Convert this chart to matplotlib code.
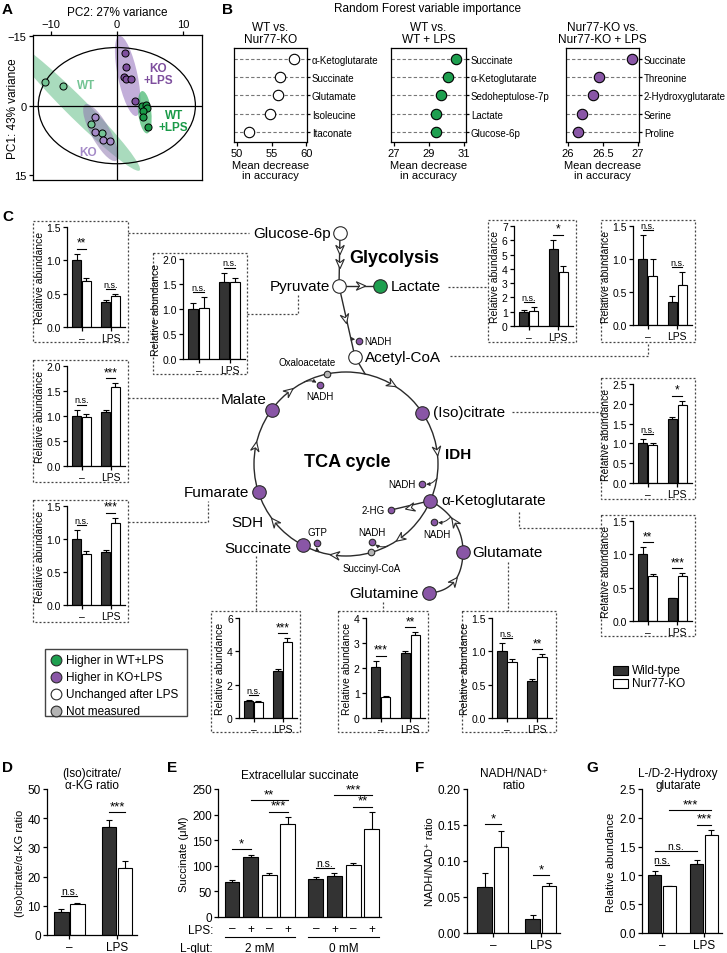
import numpy as np
import matplotlib.pyplot as plt
from matplotlib.patches import Ellipse, Rectangle, Circle, Polygon
from matplotlib.ticker import FormatStrFormatter

plt.rcParams['font.family'] = ['Liberation Sans', 'DejaVu Sans']
plt.rcParams['axes.linewidth'] = 0.9
plt.rcParams['xtick.major.width'] = 0.9
plt.rcParams['ytick.major.width'] = 0.9
plt.rcParams['xtick.major.size'] = 3
plt.rcParams['ytick.major.size'] = 3
plt.rcParams['xtick.major.pad'] = 1.5
plt.rcParams['ytick.major.pad'] = 1.5

W, H = 727, 954
DARK = '#333333'
LINE = '#2a2a2a'
GREEN = '#1e9f4f'
PURPLE = '#8956a6'
GREY = '#b4b4b4'

# ---------------- data ----------------
# A: PCA scores (PC2 on x, PC1 on y)
wt_pc2 = [-10.9, -8.2, -3.9, -2.3]
wt_pc1 = [-5.1, -4.3, 3.9, 5.8]
ko_pc2 = [-3.3, -3.3, -2.1, -1.1]
ko_pc1 = [2.4, 5.6, 7.5, 7.7]
kolps_pc2 = [1.2, 1.4, 1.1, 1.4, 2.1, 2.7]
kolps_pc1 = [-11.4, -8.3, -6.2, -5.8, -5.8, -0.9]
wtlps_pc2 = [3.8, 4.4, 4.6, 3.9, 3.9, 4.7]
wtlps_pc1 = [0.0, -0.2, 0.5, 1.2, 2.4, 4.6]

# B: random forest importance
rf1_names = ['α-Ketoglutarate', 'Succinate', 'Glutamate', 'Isoleucine', 'Itaconate']
rf1_vals = [58.2, 56.2, 56.0, 54.8, 51.8]
rf2_names = ['Succinate', 'α-Ketoglutarate', 'Sedoheptulose-7p', 'Lactate', 'Glucose-6p']
rf2_vals = [30.55, 30.05, 29.7, 29.42, 29.38]
rf3_names = ['Succinate', 'Threonine', '2-Hydroxyglutarate', 'Serine', 'Proline']
rf3_vals = [26.92, 26.45, 26.36, 26.2, 26.14]

# C: relative abundance, order WT-, KO-, WT+LPS, KO+LPS
glc6p_mean = [1.00, 0.69, 0.38, 0.46]
glc6p_sem = [0.10, 0.05, 0.02, 0.03]
glc6p_sig = ['**', 'n.s.']
pyr_mean = [1.00, 1.02, 1.55, 1.54]
pyr_sem = [0.13, 0.22, 0.18, 0.08]
pyr_sig = ['n.s.', 'n.s.']
lac_mean = [1.00, 1.05, 5.40, 3.80]
lac_sem = [0.12, 0.30, 0.65, 0.40]
lac_sig = ['n.s.', '*']
accoa_mean = [1.00, 0.75, 0.35, 0.60]
accoa_sem = [0.37, 0.25, 0.09, 0.20]
accoa_sig = ['n.s.', 'n.s.']
mal_mean = [1.00, 0.99, 1.09, 1.58]
mal_sem = [0.13, 0.05, 0.04, 0.08]
mal_sig = ['n.s.', '***']
cit_mean = [1.00, 0.95, 1.62, 1.98]
cit_sem = [0.12, 0.07, 0.05, 0.10]
cit_sig = ['n.s.', '*']
fum_mean = [1.00, 0.77, 0.81, 1.25]
fum_sem = [0.14, 0.05, 0.02, 0.07]
fum_sig = ['n.s.', '***']
akg_mean = [1.00, 0.68, 0.34, 0.68]
akg_sem = [0.11, 0.03, 0.01, 0.04]
akg_sig = ['**', '***']
suc_mean = [1.00, 0.98, 2.82, 4.55]
suc_sem = [0.08, 0.06, 0.10, 0.25]
suc_sig = ['n.s.', '***']
gln_mean = [2.05, 0.85, 2.62, 3.32]
gln_sem = [0.25, 0.04, 0.07, 0.12]
gln_sig = ['***', '**']
glu_mean = [1.00, 0.84, 0.56, 0.91]
glu_sem = [0.13, 0.05, 0.02, 0.05]
glu_sig = ['n.s.', '**']

# node status: wt = higher in WT+LPS, ko = higher in KO+LPS, same, na
node_status = {
    'Glucose-6p': 'same', 'Pyruvate': 'same', 'Lactate': 'wt', 'Acetyl-CoA': 'same',
    'Oxaloacetate': 'na', '(Iso)citrate': 'ko', 'α-Ketoglutarate': 'ko',
    'Succinyl-CoA': 'na', 'Succinate': 'ko', 'Fumarate': 'ko', 'Malate': 'ko',
    'Glutamate': 'ko', 'Glutamine': 'ko',
}
status_color = {'wt': GREEN, 'ko': PURPLE, 'same': 'white', 'na': GREY}
legend_status = ['wt', 'ko', 'same', 'na']
legend_text = ['Higher in WT+LPS', 'Higher in KO+LPS', 'Unchanged after LPS', 'Not measured']

# D
ratio_mean = [7.8, 10.7, 37.0, 23.0]
ratio_sem = [1.2, 0.3, 2.5, 2.3]
ratio_sig = [(0, 1, 'n.s.'), (2, 3, '***')]
# E
e_mean = [69, 117, 83, 181, 75, 80, 102, 172]
e_sem = [3, 5, 2, 15, 3, 5, 4, 33]
e_geno = ['wt', 'wt', 'ko', 'ko', 'wt', 'wt', 'ko', 'ko']
e_lps = ['–', '+', '–', '+', '–', '+', '–', '+']
e_glut = ['2 mM', '0 mM']
e_sig = [(0, 1, '*'), (2, 3, '***'), (1, 3, '**'), (4, 5, 'n.s.'), (6, 7, '**'), (5, 7, '***')]
# F
nadh_mean = [0.064, 0.119, 0.020, 0.065]
nadh_sem = [0.020, 0.022, 0.005, 0.005]
nadh_sig = [(0, 1, '*'), (2, 3, '*')]
# G
hg_mean = [1.00, 0.81, 1.20, 1.71]
hg_sem = [0.08, 0.01, 0.06, 0.07]
hg_sig = [(0, 1, 'n.s.'), (2, 3, '***'), (0, 2, 'n.s.'), (1, 3, '***')]

# ---------------- figure ----------------
fig = plt.figure(figsize=(W / 100, H / 100), dpi=100)


def px_axes(x0, y0, x1, y1):
    return fig.add_axes([x0 / W, 1 - y1 / H, (x1 - x0) / W, (y1 - y0) / H])


dg = fig.add_axes([0, 0, 1, 1])
dg.set_xlim(0, W)
dg.set_ylim(H, 0)
dg.axis('off')

for lab, x, y in [('A', 2, 10), ('B', 222, 10), ('C', 2, 217), ('D', 2, 768),
                  ('E', 167, 768), ('F', 415, 768), ('G', 586, 768)]:
    dg.text(x, y, lab, fontsize=11, fontweight='bold', va='center', ha='left')


def sig_lines(ax, xs, mean, sem, sig, ymax, fs=7, pad=0.05, step=0.1):
    placed = []
    tops = np.array(mean) + np.array(sem)
    for i, j, s in sig:
        h = tops[i:j + 1].max() + pad * ymax
        for a, b, hp in placed:
            if i <= a and b <= j:
                h = max(h, hp + step * ymax)
        placed.append((i, j, h))
        ax.plot([xs[i], xs[j]], [h, h], color='black', lw=0.8, clip_on=False)
        star = '*' in s
        ax.text((xs[i] + xs[j]) / 2, h, s, ha='center', va='bottom',
                fontsize=fs + 2 if star else fs, clip_on=False)


def pair_bars(ax, mean, sem, sig, ymax, yticks, fmt, fs=7.5, xlim=(-0.5, 1.5), ylabel='Relative abundance'):
    xs = np.array([-0.17, 0.17, 0.83, 1.17])
    ax.bar(xs, mean, 0.31, color=[DARK, 'white'] * 2, edgecolor='black', linewidth=0.8, zorder=2)
    ax.errorbar(xs, mean, yerr=[np.zeros(4), sem], fmt='none', ecolor='black',
                elinewidth=0.8, capsize=2, capthick=0.8, zorder=1)
    sig_lines(ax, xs, mean, sem, sig, ymax, fs=fs - 1)
    ax.set_xlim(*xlim)
    ax.set_ylim(0, ymax)
    ax.set_yticks(yticks)
    ax.yaxis.set_major_formatter(FormatStrFormatter(fmt))
    ax.set_xticks([0, 1], ['–', 'LPS'])
    ax.tick_params(labelsize=fs)
    ax.set_ylabel(ylabel, fontsize=fs, labelpad=1)
    ax.spines[['top', 'right']].set_visible(False)
    ax.set_facecolor('none')


# ---------------- A ----------------
axA = px_axes(33, 36, 202, 181)


def conf_ellipse(ax, x, y, color, alpha, n_std=2.5, min_minor=2.8):
    x = np.asarray(x, float)
    y = np.asarray(y, float)
    vals, vecs = np.linalg.eigh(np.cov(x, y))
    order = vals.argsort()[::-1]
    vals, vecs = vals[order], vecs[:, order]
    angle = np.degrees(np.arctan2(vecs[1, 0], vecs[0, 0]))
    width = 2 * n_std * np.sqrt(vals[0])
    height = max(2 * n_std * np.sqrt(vals[1]), min_minor)
    ax.add_patch(Ellipse((x.mean(), y.mean()), width, height, angle=angle,
                         fc=color, ec='none', alpha=alpha, zorder=1))


a_groups = [
    (wt_pc2, wt_pc1, '#74c494', '#7cc99a', 0.65, 3.4),
    (ko_pc2, ko_pc1, '#a58ac8', '#8f78b0', 0.55, 2.8),
    (kolps_pc2, kolps_pc1, '#7e4f9e', '#a98cc9', 0.7, 3.0),
    (wtlps_pc2, wtlps_pc1, '#1a9a48', '#3fb56a', 0.7, 2.0),
]
for x, y, pc, ec_, al, mm in a_groups:
    conf_ellipse(axA, x, y, ec_, al, min_minor=mm)
for x, y, pc, ec_, al, mm in a_groups:
    axA.scatter(x, y, s=26, c=pc, edgecolors='black', linewidths=0.7, zorder=4)
axA.add_patch(Ellipse((0, 0), 23.8, 25.0, fill=False, ec='black', lw=0.9, zorder=3))
axA.axhline(0, color='black', lw=0.9, zorder=3)
axA.axvline(0, color='black', lw=0.9, zorder=3)
axA.set_xlim(-12.7, 12.9)
axA.set_ylim(16, -15.2)
axA.set_xticks([-10, 0, 10])
axA.set_yticks([-15, 0, 15])
axA.xaxis.tick_top()
axA.xaxis.set_label_position('top')
axA.set_xlabel('PC2: 27% variance', fontsize=8.5, labelpad=3)
axA.set_ylabel('PC1: 43% variance', fontsize=8.5)
axA.yaxis.set_label_coords(-0.085, 0.5)
axA.tick_params(labelsize=8)
for s, (tx, ty), c in [('WT', (-4.6, -4.5), '#74c494'), ('KO\n+LPS', (6.3, -6.9), '#7e4f9e'),
                       ('WT\n+LPS', (8.6, 3.4), '#1a9a48'), ('KO', (-4.4, 9.9), '#a58ac8')]:
    axA.text(tx, ty, s, color=c, fontsize=8.5, fontweight='bold', ha='center', va='center',
             linespacing=1.0, zorder=5)

# ---------------- B ----------------
dg.text(428, 9, 'Random Forest variable importance', fontsize=8.5, ha='center', va='center')
b_specs = [
    ((234, 307), rf1_names, rf1_vals, 'white', (49.6, 60.1), [50, 55, 60], ['50', '55', '60'],
     'WT vs.\nNur77-KO'),
    ((391, 466), rf2_names, rf2_vals, GREEN, (26.83, 31.1), [27, 29, 31], ['27', '29', '31'],
     'WT vs.\nWT + LPS'),
    ((566, 639), rf3_names, rf3_vals, PURPLE, (25.97, 27.02), [26, 26.5, 27], ['26', '26.5', '27'],
     'Nur77-KO vs.\nNur77-KO + LPS'),
]
for (x0, x1), names, vals, fc, xl, ticks, tlabs, title in b_specs:
    ax = px_axes(x0, 49, x1, 143)
    rows = np.arange(len(names))
    for r in rows:
        ax.axhline(r, color='#777777', lw=0.8, ls=(0, (3, 2)), zorder=1)
    ax.plot(vals, rows, 'o', ms=7.5, mfc=fc, mec='black', mew=0.8, zorder=3)
    ax.set_xlim(*xl)
    ax.set_ylim(4.55, -0.6)
    ax.set_yticks(rows, names)
    ax.yaxis.tick_right()
    ax.tick_params(axis='y', length=2, labelsize=7)
    ax.set_xticks(ticks, tlabs)
    ax.tick_params(axis='x', labelsize=8)
    ax.set_xlabel('Mean decrease\nin accuracy', fontsize=8, labelpad=1, linespacing=1.0)
    ax.set_title(title, fontsize=8.5, linespacing=1.0, pad=4)

# ---------------- C: insets ----------------
inset_specs = [
    ((33, 222, 128, 343), (67, 228, 125, 328), glc6p_mean, glc6p_sem, glc6p_sig, 1.5, [0, 0.5, 1.0, 1.5], '%.1f'),
    ((153, 254, 247, 375), (183, 260, 245, 360), pyr_mean, pyr_sem, pyr_sig, 2.0, [0, 0.5, 1.0, 1.5, 2.0], '%.1f'),
    ((488, 221, 576, 343), (514, 227, 573, 327), lac_mean, lac_sem, lac_sig, 7, list(range(8)), '%d'),
    ((601, 221, 695, 343), (633, 227, 692, 326), accoa_mean, accoa_sem, accoa_sig, 1.5, [0, 0.5, 1.0, 1.5], '%.1f'),
    ((33, 361, 128, 483), (67, 367, 125, 467), mal_mean, mal_sem, mal_sig, 2.0, [0, 0.5, 1.0, 1.5, 2.0], '%.1f'),
    ((601, 379, 695, 500), (633, 385, 692, 484), cit_mean, cit_sem, cit_sig, 2.5, [0, 0.5, 1.0, 1.5, 2.0, 2.5], '%.1f'),
    ((33, 501, 128, 623), (67, 507, 125, 606), fum_mean, fum_sem, fum_sig, 1.5, [0, 0.5, 1.0, 1.5], '%.1f'),
    ((601, 516, 695, 637), (633, 522, 692, 622), akg_mean, akg_sem, akg_sig, 1.5, [0, 0.5, 1.0, 1.5], '%.1f'),
    ((211, 612, 300, 733), (239, 619, 297, 719), suc_mean, suc_sem, suc_sig, 6, [0, 2, 4, 6], '%d'),
    ((338, 612, 428, 733), (366, 619, 425, 719), gln_mean, gln_sem, gln_sig, 4, [0, 1, 2, 3, 4], '%d'),
    ((462, 612, 556, 733), (492, 619, 552, 719), glu_mean, glu_sem, glu_sig, 1.5, [0, 0.5, 1.0, 1.5], '%.1f'),
]
DOT = (0, (1.6, 1.6))
for box, axpx, mean, sem, sig, ymax, yt, fmt in inset_specs:
    dg.add_patch(Rectangle((box[0], box[1]), box[2] - box[0], box[3] - box[1], fill=False,
                           ec='#444444', lw=0.9, ls=DOT))
    ax = px_axes(*axpx)
    pair_bars(ax, mean, sem, [(0, 1, sig[0]), (2, 3, sig[1])], ymax, yt, fmt, fs=7.5)

connectors = [
    [(128, 234), (249, 234)],
    [(247, 315), (298, 315), (298, 296)],
    [(448, 288), (488, 288)],
    [(450, 357), (648, 357), (648, 343)],
    [(128, 399), (218, 399)],
    [(512, 413), (601, 413)],
    [(128, 523), (208, 523), (208, 502)],
    [(519, 513), (519, 529), (601, 529)],
    [(256, 557), (256, 612)],
    [(383, 603), (383, 612)],
    [(508, 563), (508, 612)],
]
for pts in connectors:
    pts = np.array(pts)
    dg.plot(pts[:, 0], pts[:, 1], color='#444444', lw=0.9, ls=DOT)

# ---------------- pathway ----------------
C0 = np.array([346.0, 465.0])
R0 = 92.0


def on_circle(deg):
    t = np.radians(deg)
    return C0 + R0 * np.array([np.cos(t), np.sin(t)])


def chevron(p, ang_deg, size=9.5):
    a = np.radians(ang_deg)
    d = np.array([np.cos(a), np.sin(a)])
    n = np.array([-d[1], d[0]])
    p = np.asarray(p, float)
    pts = [p + d * size * 0.5, p - d * size * 0.5 + n * size * 0.45,
           p - d * size * 0.15, p - d * size * 0.5 - n * size * 0.45]
    dg.add_patch(Polygon(pts, closed=True, fc='white', ec=LINE, lw=0.8, zorder=3))


def qcurve(p0, c, p2, n=40):
    p0, c, p2 = map(lambda v: np.asarray(v, float), (p0, c, p2))
    t = np.linspace(0, 1, n)[:, None]
    return (1 - t) ** 2 * p0 + 2 * (1 - t) * t * c + t ** 2 * p2


def node(p, key=None, color=None, big=True):
    col = color if color is not None else status_color[node_status[key]]
    dg.scatter([p[0]], [p[1]], s=95 if big else 22, c=col, edgecolors=LINE,
               linewidths=0.8, zorder=5)


def branch(src, dst):
    dg.annotate('', xy=dst, xytext=src,
                arrowprops=dict(arrowstyle='-|>', lw=0.7, color=LINE, mutation_scale=5,
                                shrinkA=0, shrinkB=3, connectionstyle='arc3,rad=-0.3'), zorder=2)


dg.add_patch(Circle(C0, R0, fill=False, ec=LINE, lw=1.0, zorder=2))
for deg in [-60, -8, 54, 97, 141, 191, 232]:
    chevron(on_circle(deg), deg + 90)

p_glc = np.array([340, 234])
p_pyr = np.array([339, 287])
p_lac = np.array([380, 287])
p_acc = np.array([355, 358])
p_glu = np.array([463, 553])
p_gln = np.array([429, 594])
circle_angles = {'Oxaloacetate': 258, '(Iso)citrate': -34, 'α-Ketoglutarate': 23.5,
                 'Succinyl-CoA': 74, 'Succinate': 118, 'Fumarate': 162, 'Malate': 216}
p_akg = on_circle(circle_angles['α-Ketoglutarate'])

dg.plot([p_glc[0], p_pyr[0]], [p_glc[1], p_pyr[1]], color=LINE, lw=1.0, zorder=2)
chevron((340, 251), 90)
chevron((340, 265), 90)
dg.plot([p_pyr[0], p_lac[0]], [p_pyr[1], p_lac[1]], color=LINE, lw=1.0, zorder=2)
chevron((361, 287), 0)
dg.plot([p_pyr[0], p_acc[0]], [p_pyr[1], p_acc[1]], color=LINE, lw=1.0, zorder=2)
chevron((345.5, 320), np.degrees(np.arctan2(71, 16)))
p_in = on_circle(-78)
dg.plot([p_acc[0], p_in[0]], [p_acc[1], p_in[1]], color=LINE, lw=1.0, zorder=2)

gl1 = qcurve(p_gln, (462, 592), p_glu)
gl2 = qcurve(p_glu, (463, 520), p_akg)
for cv in (gl1, gl2):
    dg.plot(cv[:, 0], cv[:, 1], color=LINE, lw=1.0, zorder=2)
    k = len(cv) // 2
    dvec = cv[k + 1] - cv[k - 1]
    chevron(cv[k], np.degrees(np.arctan2(dvec[1], dvec[0])))

# 2-HG branch
p_2hg = np.array([391, 511])
dg.plot([p_akg[0], p_2hg[0]], [p_akg[1], p_2hg[1]], color=LINE, lw=1.0, zorder=2)
chevron((410, 509), np.degrees(np.arctan2(p_2hg[1] - p_akg[1], p_2hg[0] - p_akg[0])))

cofactors = [
    ((351.5, 341), (359, 342), 'NADH', (364, 342), 'left', 'center'),
    (on_circle(243), (320, 386), 'NADH', (320, 397), 'center', 'center'),
    (on_circle(9), (422, 485), 'NADH', (416, 485), 'right', 'center'),
    (gl2[24], (434, 523), 'NADH', (437, 535), 'center', 'center'),
    (on_circle(63), (372, 543), 'NADH', (372, 533), 'center', 'center'),
    (on_circle(107), (317, 544), 'GTP', (317, 533), 'center', 'center'),
]
for src, dst, lab, tp, ha, va in cofactors:
    branch(src, dst)
    node(dst, color=PURPLE, big=False)
    dg.text(tp[0], tp[1], lab, fontsize=7, ha=ha, va=va)
node(p_2hg, color=PURPLE, big=False)
dg.text(385, 511, '2-HG', fontsize=7, ha='right', va='center')

node(p_glc, 'Glucose-6p')
node(p_pyr, 'Pyruvate')
node(p_lac, 'Lactate')
node(p_acc, 'Acetyl-CoA')
node(p_glu, 'Glutamate')
node(p_gln, 'Glutamine')
for k, ang in circle_angles.items():
    node(on_circle(ang), k, big=k not in ('Oxaloacetate', 'Succinyl-CoA'))

big_labels = [
    ('Glucose-6p', (331, 234), 'right'), ('Pyruvate', (330, 287), 'right'),
    ('Lactate', (391, 287), 'left'), ('Acetyl-CoA', (365, 358), 'left'),
    ('Malate', (267, 400), 'right'), ('(Iso)citrate', (433, 413), 'left'),
    ('α-Ketoglutarate', (441, 501), 'left'), ('Glutamate', (472, 553), 'left'),
    ('Glutamine', (419, 594), 'right'), ('Succinate', (291, 549), 'right'),
    ('Fumarate', (249, 493), 'right'), ('SDH', (263, 523), 'right'),
]
for s, (x, y), ha in big_labels:
    dg.text(x, y, s, fontsize=11, ha=ha, va='center')
dg.text(307, 363, 'Oxaloacetate', fontsize=7, ha='center', va='center')
dg.text(372, 569, 'Succinyl-CoA', fontsize=7, ha='center', va='center')
dg.text(349, 259, 'Glycolysis', fontsize=13, fontweight='bold', ha='left', va='center')
dg.text(347, 463, 'TCA cycle', fontsize=13, fontweight='bold', ha='center', va='center')
dg.text(445, 455, 'IDH', fontsize=11, fontweight='bold', ha='left', va='center')

# node legend
dg.add_patch(Rectangle((45, 650), 142, 67, fill=False, ec='#444444', lw=1.0))
for i, (st, txt) in enumerate(zip(legend_status, legend_text)):
    y = 661 + 17 * i
    dg.scatter([56], [y], s=60, c=status_color[st], edgecolors=LINE, linewidths=0.8, zorder=5)
    dg.text(66, y, txt, fontsize=8.5, ha='left', va='center')

# bar legend
for i, (fc, txt) in enumerate([(DARK, 'Wild-type'), ('white', 'Nur77-KO')]):
    y = 671 + 13 * i
    dg.add_patch(Rectangle((613, y - 4.5), 15, 9, fc=fc, ec='black', lw=0.8))
    dg.text(632, y, txt, fontsize=8.5, ha='left', va='center')

# ---------------- D ----------------
axD = px_axes(47, 790, 137, 936)
pair_bars(axD, ratio_mean, ratio_sem, ratio_sig, 50, [0, 10, 20, 30, 40, 50], '%d', fs=8.5,
          xlim=(-0.47, 1.42), ylabel='(Iso)citrate/α-KG ratio')
axD.set_ylabel('(Iso)citrate/α-KG ratio', fontsize=8, labelpad=2)
axD.text(0.5, 0.985, '(Iso)citrate/\nα-KG ratio', transform=axD.transAxes, ha='center',
         va='bottom', fontsize=8.5, linespacing=1.05)

# ---------------- E ----------------
axE = px_axes(218, 790, 381, 918)
ex = np.array([0, 1, 2, 3, 4.5, 5.5, 6.5, 7.5])
axE.bar(ex, e_mean, 0.8, color=[DARK if g == 'wt' else 'white' for g in e_geno],
        edgecolor='black', linewidth=0.8, zorder=2)
axE.errorbar(ex, e_mean, yerr=[np.zeros(len(e_sem)), e_sem], fmt='none', ecolor='black',
             elinewidth=0.8, capsize=2.5, capthick=0.8, zorder=1)
sig_lines(axE, ex, e_mean, e_sem, e_sig, 250, fs=7.5, pad=0.04, step=0.09)
axE.set_xlim(-0.75, 8.0)
axE.set_ylim(0, 250)
axE.set_yticks([0, 50, 100, 150, 200, 250])
axE.set_xticks(ex, e_lps)
axE.tick_params(axis='x', length=0, pad=4)
axE.tick_params(labelsize=8.5)
axE.spines[['top', 'right']].set_visible(False)
axE.set_ylabel('Succinate (μM)', fontsize=8, labelpad=2)
axE.text(0.5, 1.11, 'Extracellular succinate', transform=axE.transAxes, ha='center',
         va='center', fontsize=8.5)
tr = axE.get_xaxis_transform()
axE.text(-0.03, -0.1, 'LPS:', transform=axE.transAxes, ha='right', va='center', fontsize=8.5)
axE.text(-0.03, -0.24, 'L-glut:', transform=axE.transAxes, ha='right', va='center', fontsize=8.5)
for g, lab in enumerate(e_glut):
    xs_g = ex[4 * g:4 * g + 4]
    axE.plot([xs_g[0] - 0.4, xs_g[-1] + 0.4], [-0.158, -0.158], transform=tr, color='black',
             lw=0.8, clip_on=False)
    axE.text(xs_g.mean(), -0.24, lab, transform=tr, ha='center', va='center', fontsize=8.5)

# ---------------- F ----------------
axF = px_axes(467, 790, 560, 934)
pair_bars(axF, nadh_mean, nadh_sem, nadh_sig, 0.20, [0, 0.05, 0.10, 0.15, 0.20], '%.2f', fs=8.5,
          xlim=(-0.54, 1.4), ylabel='NADH/NAD⁺ ratio')
axF.set_ylabel('NADH/NAD⁺ ratio', fontsize=8, labelpad=2)
axF.text(0.5, 0.985, 'NADH/NAD⁺\nratio', transform=axF.transAxes, ha='center',
         va='bottom', fontsize=8.5, linespacing=1.05)

# ---------------- G ----------------
axG = px_axes(642, 790, 722, 934)
pair_bars(axG, hg_mean, hg_sem, [], 2.5, [0, 0.5, 1.0, 1.5, 2.0, 2.5], '%.1f', fs=8.5,
          xlim=(-0.48, 1.43))
sig_lines(axG, np.array([-0.17, 0.17, 0.83, 1.17]), hg_mean, hg_sem, hg_sig, 2.5, fs=7.5,
          pad=0.04, step=0.1)
axG.set_ylabel('Relative abundance', fontsize=8, labelpad=2)
axG.text(0.45, 0.985, 'L-/D-2-Hydroxy\nglutarate', transform=axG.transAxes, ha='center',
         va='bottom', fontsize=8.5, linespacing=1.05)

fig.savefig('out.png', dpi=100)
